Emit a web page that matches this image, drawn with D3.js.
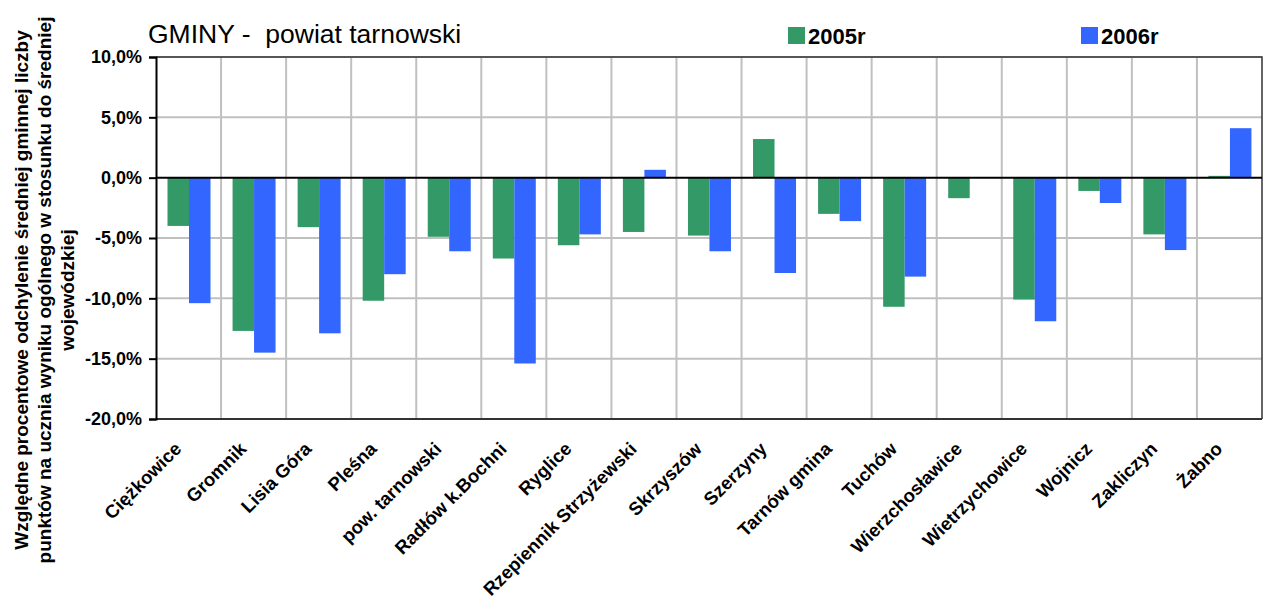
<!DOCTYPE html>
<html>
<head>
<meta charset="utf-8">
<script src="https://cdn.jsdelivr.net/npm/d3@7"></script>
<style>
  body { margin: 0; background: #fff; }
  text { font-family: "Liberation Sans", Arial, sans-serif; }
</style>
</head>
<body>
<div id="chart"></div>
<script>
// Data
const gminy = ["Ciężkowice", "Gromnik", "Lisia Góra", "Pleśna", "pow. tarnowski",
    "Radłów k.Bochni", "Ryglice", "Rzepiennik Strzyżewski", "Skrzyszów", "Szerzyny",
    "Tarnów gmina", "Tuchów", "Wierzchosławice", "Wietrzychowice", "Wojnicz",
    "Zakliczyn", "Żabno"];
const years = ["2005r", "2006r"];
const values2005 = [-4.0, -12.7, -4.1, -10.2, -4.9, -6.7, -5.6, -4.5, -4.8, 3.2,
    -3.0, -10.7, -1.7, -10.1, -1.1, -4.7, 0.15];
const values2006 = [-10.4, -14.5, -12.9, -8.0, -6.1, -15.4, -4.7, 0.65, -6.1, -7.9,
    -3.6, -8.2, 0, -11.9, -2.1, -6.0, 4.1];
const yTicks = [-20, -15, -10, -5, 0, 5, 10];
const colors = { "2005r": "#339966", "2006r": "#3366ff" };

const data = gminy.map((g, i) => ({ name: g, "2005r": values2005[i], "2006r": values2006[i] }));

// Dimensions
const W = 1263, H = 608;
const plotLeft = 156, plotRight = 1262, plotTop = 57, plotBottom = 419;

const svg = d3.select("#chart")
    .append("svg")
    .attr("width", W)
    .attr("height", H);

// Scales
const x = d3.scaleBand().domain(gminy).range([plotLeft, plotRight]).padding(0);
const xIn = d3.scaleBand().domain(years).range([11.5, 54.5]).padding(0);
const y = d3.scaleLinear().domain([-20, 10]).range([plotBottom, plotTop]);

// Grid lines
svg.append("g")
    .selectAll("line")
    .data(yTicks.filter(d => d !== 0 && d !== -20))
    .join("line")
    .attr("x1", plotLeft).attr("x2", plotRight)
    .attr("y1", d => y(d)).attr("y2", d => y(d))
    .attr("stroke", "#c0c0c0")
    .attr("stroke-width", 2);

svg.append("g")
    .selectAll("line")
    .data(gminy.slice(1))
    .join("line")
    .attr("x1", d => x(d)).attr("x2", d => x(d))
    .attr("y1", plotTop).attr("y2", plotBottom)
    .attr("stroke", "#c0c0c0")
    .attr("stroke-width", 2);

// Plot border (top and right)
svg.append("path")
    .attr("d", `M${plotLeft},${plotTop}H${plotRight}V${plotBottom}`)
    .attr("fill", "none")
    .attr("stroke", "#333")
    .attr("stroke-width", 1.5);

// Bars
svg.append("g")
    .selectAll("g")
    .data(data)
    .join("g")
    .attr("transform", d => `translate(${x(d.name)},0)`)
    .selectAll("rect")
    .data(d => years.map(k => ({ key: k, value: d[k] })))
    .join("rect")
    .attr("x", d => xIn(d.key))
    .attr("width", xIn.bandwidth())
    .attr("y", d => y(Math.max(0, d.value)))
    .attr("height", d => Math.abs(y(d.value) - y(0)))
    .attr("fill", d => colors[d.key]);

// Zero line
svg.append("line")
    .attr("x1", plotLeft).attr("x2", plotRight)
    .attr("y1", y(0)).attr("y2", y(0))
    .attr("stroke", "#000")
    .attr("stroke-width", 2);

// Bottom axis line
svg.append("line")
    .attr("x1", plotLeft).attr("x2", plotRight)
    .attr("y1", plotBottom).attr("y2", plotBottom)
    .attr("stroke", "#333")
    .attr("stroke-width", 2);

// Y axis
const plLocale = d3.formatLocale({ decimal: ",", thousands: " ", grouping: [3], currency: ["", " zł"], minus: "-" });
const fmt = plLocale.format(".1f");

const yAxis = svg.append("g")
    .attr("transform", `translate(${plotLeft},0)`)
    .call(d3.axisLeft(y).tickValues(yTicks).tickSize(7).tickPadding(7)
        .tickFormat(d => fmt(d) + "%"));
yAxis.select(".domain").attr("stroke", "#000").attr("stroke-width", 2);
yAxis.selectAll(".tick line").attr("stroke", "#000").attr("stroke-width", 2);
yAxis.selectAll(".tick text")
    .attr("font-size", 18)
    .attr("font-weight", "bold")
    .attr("font-family", "'Liberation Sans', Arial, sans-serif")
    .attr("fill", "#000");

// X labels
svg.append("g")
    .selectAll("text")
    .data(gminy)
    .join("text")
    .attr("transform", d => `translate(${x(d) + x.bandwidth() / 2 - 6},${plotBottom + 31}) rotate(-45)`)
    .attr("text-anchor", "end")
    .attr("font-size", 18.5)
    .attr("font-weight", "bold")
    .text(d => d);

// Y axis title
const yTitle = ["Względne procentowe odchylenie średniej gminnej liczby",
    "punktów na ucznia wyniku ogólnego w stosunku do średniej",
    "wojewódzkiej"];
svg.append("g")
    .selectAll("text")
    .data(yTitle)
    .join("text")
    .attr("transform", (d, i) => `translate(${28 + i * 23},290) rotate(-90)`)
    .attr("text-anchor", "middle")
    .attr("font-size", 19)
    .attr("font-weight", "bold")
    .text(d => d);

// Title
svg.append("text")
    .attr("x", 148)
    .attr("y", 43)
    .attr("font-size", 26.5)
    .style("white-space", "pre")
    .text("GMINY -  powiat tarnowski");

// Legend
const legendX = { "2005r": 788, "2006r": 1081 };
const legend = svg.append("g")
    .selectAll("g")
    .data(years)
    .join("g")
    .attr("transform", d => `translate(${legendX[d]},27)`);
legend.append("rect")
    .attr("width", 17).attr("height", 17)
    .attr("fill", d => colors[d]);
legend.append("text")
    .attr("x", 20).attr("y", 17)
    .attr("font-size", 22)
    .attr("font-weight", "bold")
    .text(d => d);
</script>
</body>
</html>
